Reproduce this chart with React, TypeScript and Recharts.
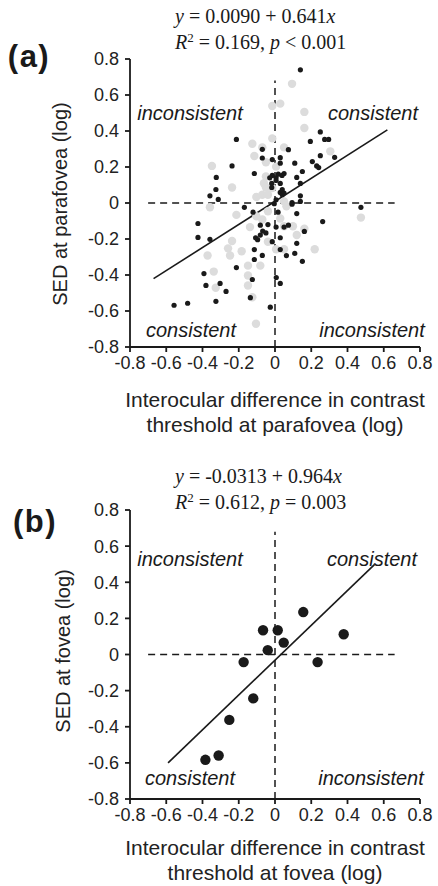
import { ScatterChart, Scatter, XAxis, YAxis, ReferenceLine } from 'recharts';

const AXIS_TICKS = [-0.8, -0.6, -0.4, -0.2, 0, 0.2, 0.4, 0.6, 0.8];

// (a) parafovea, black = one group, grey = other group
const PARAFOVEA_BLACK = [
  { x: 0.14, y: 0.74 }, { x: -0.213, y: 0.353 }, { x: -0.237, y: 0.206 }, { x: -0.324, y: 0.142 },
  { x: -0.326, y: 0.075 }, { x: -0.359, y: 0.04 }, { x: -0.313, y: 0.02 }, { x: -0.425, y: -0.114 },
  { x: -0.425, y: -0.191 }, { x: -0.359, y: -0.202 }, { x: -0.169, y: -0.024 }, { x: -0.114, y: 0.164 },
  { x: -0.07, y: 0.298 }, { x: -0.07, y: 0.25 }, { x: -0.121, y: -0.051 }, { x: -0.081, y: -0.123 },
  { x: -0.068, y: -0.156 }, { x: -0.081, y: -0.178 }, { x: -0.107, y: -0.193 }, { x: -0.096, y: -0.204 },
  { x: -0.05, y: -0.166 }, { x: -0.039, y: -0.12 }, { x: -0.114, y: -0.259 }, { x: -0.07, y: -0.291 },
  { x: -0.114, y: -0.314 }, { x: -0.213, y: -0.359 }, { x: -0.392, y: -0.392 }, { x: -0.381, y: -0.458 },
  { x: -0.303, y: -0.447 }, { x: -0.27, y: -0.491 }, { x: -0.326, y: -0.546 }, { x: -0.125, y: -0.425 },
  { x: -0.136, y: -0.526 }, { x: -0.026, y: -0.579 }, { x: -0.482, y: -0.557 }, { x: -0.557, y: -0.568 },
  { x: 0.007, y: -0.414 }, { x: 0.029, y: -0.447 }, { x: -0.015, y: 0.241 }, { x: 0.029, y: 0.252 },
  { x: 0.029, y: 0.221 }, { x: -0.015, y: 0.153 }, { x: -0.029, y: 0.14 }, { x: 0.006, y: 0.14 },
  { x: 0.018, y: 0.16 }, { x: 0.05, y: 0.164 }, { x: 0.039, y: 0.153 }, { x: -0.018, y: 0.109 },
  { x: -0.018, y: 0.086 }, { x: 0.006, y: 0.018 }, { x: -0.004, y: -0.004 }, { x: 0.017, y: -0.051 },
  { x: 0.006, y: -0.134 }, { x: 0.029, y: 0.059 }, { x: 0.04, y: 0.074 }, { x: 0.04, y: 0.046 },
  { x: 0.05, y: 0.055 }, { x: 0.074, y: 0.296 }, { x: 0.109, y: 0.221 }, { x: 0.12, y: 0.142 },
  { x: 0.151, y: 0.175 }, { x: 0.14, y: 0.109 }, { x: 0.094, y: 0.002 }, { x: 0.094, y: -0.007 },
  { x: 0.14, y: 0.009 }, { x: 0.14, y: 0.04 }, { x: 0.12, y: -0.059 }, { x: 0.05, y: -0.134 },
  { x: 0.074, y: -0.123 }, { x: 0.029, y: -0.193 }, { x: -0.015, y: -0.215 }, { x: 0.029, y: -0.259 },
  { x: 0.063, y: -0.292 }, { x: 0.109, y: -0.28 }, { x: 0.12, y: -0.224 }, { x: 0.162, y: -0.158 },
  { x: 0.151, y: -0.324 }, { x: 0.195, y: 0.342 }, { x: 0.25, y: 0.395 }, { x: 0.274, y: 0.353 },
  { x: 0.296, y: 0.353 }, { x: 0.206, y: 0.23 }, { x: 0.23, y: 0.206 }, { x: 0.241, y: 0.197 },
  { x: 0.25, y: 0.263 }, { x: 0.329, y: 0.254 }, { x: 0.263, y: -0.103 }, { x: 0.474, y: -0.024 },
  { x: 0.029, y: 0.109 }, { x: 0.006, y: 0.125 },
];

const PARAFOVEA_GREY = [
  { x: 0.094, y: 0.662 }, { x: -0.015, y: 0.539 }, { x: 0.029, y: 0.552 }, { x: 0.162, y: 0.506 },
  { x: 0.162, y: 0.417 }, { x: -0.015, y: 0.359 }, { x: -0.125, y: 0.329 }, { x: -0.114, y: 0.261 },
  { x: -0.07, y: 0.309 }, { x: 0.05, y: 0.309 }, { x: 0.305, y: 0.287 }, { x: -0.348, y: 0.206 },
  { x: -0.237, y: 0.086 }, { x: -0.05, y: 0.226 }, { x: 0.006, y: 0.202 }, { x: -0.05, y: 0.147 },
  { x: -0.061, y: 0.11 }, { x: -0.05, y: 0.086 }, { x: -0.07, y: 0.046 }, { x: -0.103, y: 0.033 },
  { x: -0.039, y: 0.046 }, { x: -0.015, y: 0.083 }, { x: 0.05, y: 0.009 }, { x: 0.063, y: -0.018 },
  { x: -0.359, y: -0.024 }, { x: -0.213, y: -0.066 }, { x: -0.039, y: -0.046 }, { x: 0.029, y: -0.086 },
  { x: -0.138, y: -0.134 }, { x: 0.05, y: -0.129 }, { x: 0.099, y: -0.129 }, { x: 0.162, y: -0.143 },
  { x: 0.12, y: -0.178 }, { x: -0.039, y: -0.215 }, { x: -0.237, y: -0.211 }, { x: -0.259, y: -0.252 },
  { x: -0.184, y: -0.268 }, { x: -0.248, y: -0.292 }, { x: -0.372, y: -0.292 }, { x: 0.006, y: -0.257 },
  { x: 0.05, y: -0.257 }, { x: 0.219, y: -0.257 }, { x: -0.149, y: -0.348 }, { x: -0.081, y: -0.348 },
  { x: -0.338, y: -0.381 }, { x: -0.149, y: -0.403 }, { x: -0.149, y: -0.458 }, { x: -0.327, y: -0.471 },
  { x: -0.125, y: -0.524 }, { x: -0.105, y: -0.671 }, { x: 0.474, y: -0.081 }, { x: -0.103, y: -0.074 },
  { x: -0.07, y: -0.092 },
];

// (b) fovea
const FOVEA_POINTS = [
  { x: 0.156, y: 0.235 }, { x: -0.066, y: 0.134 }, { x: 0.015, y: 0.134 }, { x: 0.048, y: 0.066 },
  { x: -0.04, y: 0.024 }, { x: -0.173, y: -0.042 }, { x: 0.235, y: -0.042 }, { x: 0.379, y: 0.112 },
  { x: -0.12, y: -0.243 }, { x: -0.252, y: -0.362 }, { x: -0.384, y: -0.583 }, { x: -0.311, y: -0.559 },
];

// regression fits: intercept, slope, drawn x-range
const FIT_A = { intercept: 0.009, slope: 0.641, from: -0.67, to: 0.62 };
const FIT_B = { intercept: -0.0313, slope: 0.964, from: -0.59, to: 0.55 };

const SANS = '"Liberation Sans", Arial, Helvetica, sans-serif';
const SERIF = '"Liberation Serif", "Times New Roman", serif';
const INK = '#1a1a1a';

const fmt = (v: number) => (v === 0 ? '0' : v.toFixed(1));

const blackDot = (r: number) => (p: any) => <circle cx={p.cx} cy={p.cy} r={r} fill={INK} />;
const greyDot = (p: any) => <circle cx={p.cx} cy={p.cy} r={4.2} fill="#dcdcdc" />;

function Panel({ fit, children, margin }: any) {
  const tickStyle = { fontSize: 18, fill: '#222', fontFamily: SANS };
  return (
    <ScatterChart width={438} height={436} margin={margin}>
      <XAxis
        type="number"
        dataKey="x"
        domain={[-0.8, 0.8]}
        ticks={AXIS_TICKS}
        tickFormatter={fmt}
        interval={0}
        height={30}
        tick={tickStyle}
        tickSize={5}
        tickMargin={4}
        stroke={INK}
        strokeWidth={1.8}
        allowDataOverflow
      />
      <YAxis
        type="number"
        dataKey="y"
        domain={[-0.8, 0.8]}
        ticks={AXIS_TICKS}
        tickFormatter={fmt}
        interval={0}
        width={60}
        tick={tickStyle}
        tickSize={5}
        tickMargin={6}
        stroke={INK}
        strokeWidth={1.8}
        allowDataOverflow
      />
      <ReferenceLine segment={[{ x: 0, y: -0.8 }, { x: 0, y: 0.68 }]} stroke={INK} strokeWidth={1.5} strokeDasharray="7 5" />
      <ReferenceLine segment={[{ x: -0.7, y: 0 }, { x: 0.66, y: 0 }]} stroke={INK} strokeWidth={1.5} strokeDasharray="7 5" />
      {children}
      <ReferenceLine
        segment={[
          { x: fit.from, y: fit.intercept + fit.slope * fit.from },
          { x: fit.to, y: fit.intercept + fit.slope * fit.to },
        ]}
        stroke={INK}
        strokeWidth={1.6}
      />
    </ScatterChart>
  );
}

const at = (left: number, top: number, extra: any = {}) => ({
  position: 'absolute' as const,
  left,
  top,
  transform: 'translate(-50%, -50%)',
  whiteSpace: 'nowrap' as const,
  color: INK,
  fontFamily: SANS,
  ...extra,
});

const quad = { fontSize: 20, fontStyle: 'italic' };
const eq = (top: number) => at(0, top, { fontFamily: SERIF, fontSize: 20, left: 175, transform: 'translateY(-50%)' });
const title = { fontSize: 21, color: '#222' };
const panelTag = { fontSize: 31, fontWeight: 'bold', letterSpacing: 1.5 };

export default function App() {
  return (
    <div style={{ position: 'relative', width: 438, height: 886, background: '#fff', overflow: 'hidden' }}>
      <style>{'body{margin:0}'}</style>

      <div style={{ position: 'absolute', left: 0, top: 0 }}>
        <Panel fit={FIT_A} margin={{ top: 59, right: 18, left: 70, bottom: 59 }}>
          <Scatter data={PARAFOVEA_GREY} shape={greyDot} isAnimationActive={false} />
          <Scatter data={PARAFOVEA_BLACK} shape={blackDot(2.6)} isAnimationActive={false} />
        </Panel>
      </div>
      <div style={{ position: 'absolute', left: 0, top: 450 }}>
        <Panel fit={FIT_B} margin={{ top: 60, right: 18, left: 70, bottom: 57 }}>
          <Scatter data={FOVEA_POINTS} shape={blackDot(5.2)} isAnimationActive={false} />
        </Panel>
      </div>

      {/* panel (a) text */}
      <div style={eq(16)}>
        <i>y</i> = 0.0090 + 0.641<i>x</i>
      </div>
      <div style={eq(42)}>
        <i>R</i><sup style={{ fontSize: 13 }}>2</sup> = 0.169, <i>p</i> &lt; 0.001
      </div>
      <div style={at(29, 57, panelTag)}>(a)</div>
      <div style={at(60, 204, { fontSize: 20, color: '#222', transform: 'translate(-50%, -50%) rotate(-90deg)' })}>
        SED at parafovea (log)
      </div>
      <div style={at(275, 400, title)}>Interocular difference in contrast</div>
      <div style={at(275, 425, title)}>threshold at parafovea (log)</div>
      <div style={at(190, 113, quad)}>inconsistent</div>
      <div style={at(373, 113, quad)}>consistent</div>
      <div style={at(191, 330, quad)}>consistent</div>
      <div style={at(372, 330, quad)}>inconsistent</div>

      {/* panel (b) text */}
      <div style={eq(476)}>
        <i>y</i> = -0.0313 + 0.964<i>x</i>
      </div>
      <div style={eq(502)}>
        <i>R</i><sup style={{ fontSize: 13 }}>2</sup> = 0.612, <i>p</i> = 0.003
      </div>
      <div style={at(35, 522, panelTag)}>(b)</div>
      <div style={at(63, 651, { fontSize: 20, color: '#222', transform: 'translate(-50%, -50%) rotate(-90deg)' })}>
        SED at fovea (log)
      </div>
      <div style={at(275, 848, title)}>Interocular difference in contrast</div>
      <div style={at(275, 873, title)}>threshold at fovea (log)</div>
      <div style={at(190, 559, quad)}>inconsistent</div>
      <div style={at(372, 559, quad)}>consistent</div>
      <div style={at(190, 778, quad)}>consistent</div>
      <div style={at(371, 778, quad)}>inconsistent</div>
    </div>
  );
}
